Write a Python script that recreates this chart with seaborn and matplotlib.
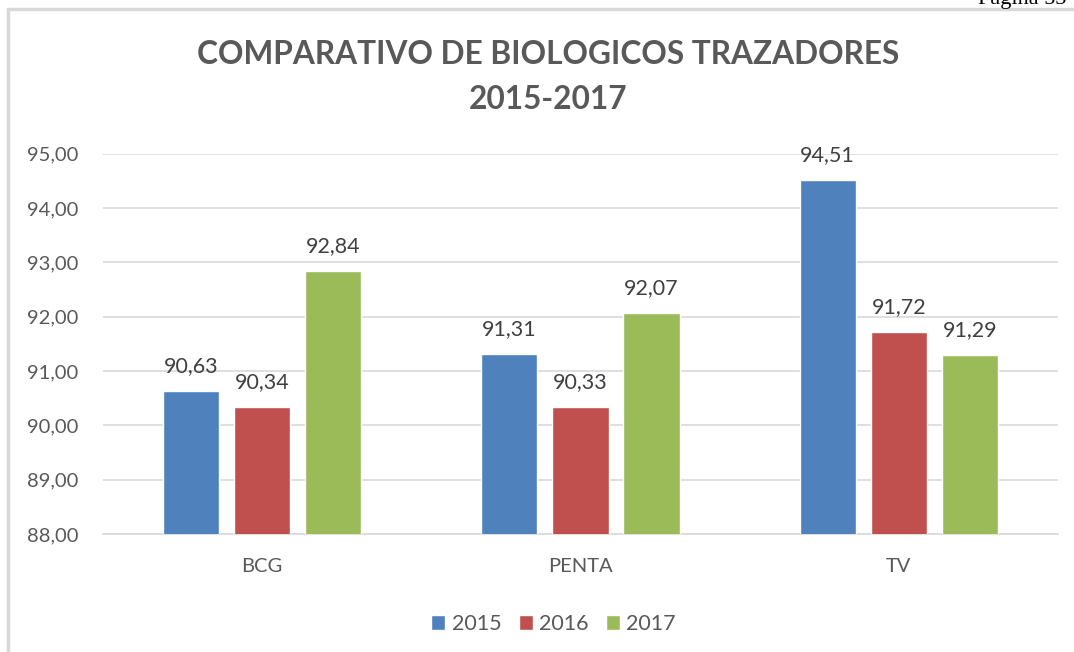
import matplotlib
matplotlib.use("Agg")
import matplotlib.pyplot as plt
import matplotlib.ticker as mticker
from matplotlib.lines import Line2D
import pandas as pd
import seaborn as sns

# data
CATEGORIES = ["BCG", "PENTA", "TV"]
YEARS = ["2015", "2016", "2017"]
VALUES_2015 = [90.63, 91.31, 94.51]
VALUES_2016 = [90.34, 90.33, 91.72]
VALUES_2017 = [92.84, 92.07, 91.29]
COLORS = ["#4F81BD", "#C0504D", "#9BBB59"]

TEXT_GRAY = "#595959"
GRID_GRAY = "#D9D9D9"

sns.set_theme(style="white")
plt.rcParams["font.family"] = ["Lato", "DejaVu Sans"]

rows = []
for year, vals in zip(YEARS, [VALUES_2015, VALUES_2016, VALUES_2017]):
    for cat, v in zip(CATEGORIES, vals):
        rows.append({"categoria": cat, "anio": year, "valor": v})
df = pd.DataFrame(rows)

fig = plt.figure(figsize=(10.74, 6.52), dpi=100)
ax = fig.add_axes([0.096, 0.181, 0.889, 0.583])

sns.barplot(data=df, x="categoria", y="valor", hue="anio", order=CATEGORIES,
            hue_order=YEARS, palette=COLORS, width=0.67, gap=0.21,
            saturation=1, errorbar=None, ax=ax, zorder=3)

ax.set_ylim(88, 95)
ax.set_xlim(-0.5, 2.5)
ax.yaxis.set_major_locator(mticker.MultipleLocator(1))
ax.yaxis.set_major_formatter(
    mticker.FuncFormatter(lambda v, _: f"{v:.2f}".replace(".", ",")))
ax.grid(axis="y", color=GRID_GRAY, linewidth=1.2, zorder=0)
ax.set_axisbelow(True)
for side in ["top", "right", "left"]:
    ax.spines[side].set_visible(False)
ax.spines["bottom"].set_color(GRID_GRAY)
ax.spines["bottom"].set_linewidth(1.2)
ax.tick_params(axis="both", length=0, labelsize=14.5, colors=TEXT_GRAY)
ax.tick_params(axis="y", pad=18)
ax.tick_params(axis="x", pad=17)
ax.set_xlabel("")
ax.set_ylabel("")

for container in ax.containers:
    labels = [f"{b.get_height():.2f}".replace(".", ",") for b in container]
    ax.bar_label(container, labels=labels, padding=11, fontsize=15.5,
                 color="#404040")

ax.legend(loc="upper center", bbox_to_anchor=(0.472, -0.16), ncol=3,
          frameon=False, fontsize=15.5, handlelength=0.65, handleheight=0.65,
          handletextpad=0.3, columnspacing=0.8, labelcolor=TEXT_GRAY)

fig.text(0.51, 0.916, "COMPARATIVO DE BIOLOGICOS TRAZADORES", ha="center",
         va="center", fontsize=22.8, fontweight="bold", color=TEXT_GRAY)
fig.text(0.51, 0.847, "2015-2017", ha="center", va="center", fontsize=22.8,
         fontweight="bold", color=TEXT_GRAY)

# chart frame (clipped at the page edge) and page header
fig.add_artist(Line2D([8 / 1074, 1.0], [1 - 9 / 652, 1 - 9 / 652],
                      color=GRID_GRAY, linewidth=2.5))
fig.add_artist(Line2D([8 / 1074, 8 / 1074], [0.0, 1 - 9 / 652],
                      color=GRID_GRAY, linewidth=2.5))
fig.text(0.993, 1 - 4 / 652, "Página 53", ha="right", va="baseline",
         fontsize=16, family="Liberation Serif", color="black")

fig.savefig("out.png", dpi=100)
